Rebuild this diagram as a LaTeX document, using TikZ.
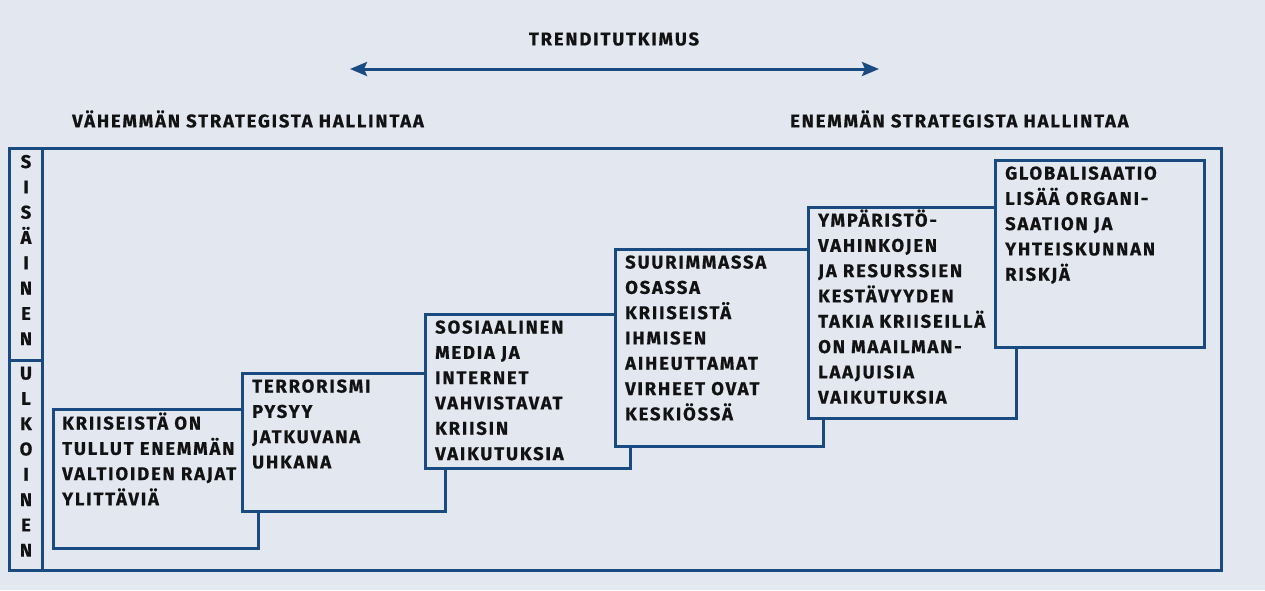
\documentclass[tikz,border=0pt]{standalone}
\usepackage{fontspec}
\setmainfont{Fira Sans}[LetterSpace=10,BoldFeatures={FakeBold=0.6}]
\usetikzlibrary{arrows.meta}
\definecolor{bgc}{HTML}{E2E7F0}
\definecolor{linec}{HTML}{1A4B80}
\definecolor{txtc}{HTML}{121212}
\newcommand{\mylines}[1]{\begin{tabular}[t]{@{}l@{}}#1\end{tabular}}
\newcommand{\mycol}[1]{\begin{tabular}[t]{@{}c@{}}#1\end{tabular}}
\begin{document}
\begin{tikzpicture}[x=1pt,y=-1pt,
  frame/.style={draw=linec,line width=3pt},
  box/.style={draw=linec,fill=bgc,line width=3pt,anchor=north west,inner sep=0pt,outer sep=0pt},
  txt/.style={anchor=base west,inner sep=0pt,text=txtc,font=\fontsize{18.4}{25.3}\selectfont\bfseries},
  head/.style={inner sep=0pt,text=txtc,font=\fontsize{18.4}{25.3}\selectfont\bfseries},
  colt/.style={anchor=base,inner sep=0pt,text=txtc,font=\fontsize{18.4}{25.3}\selectfont\bfseries}]
\useasboundingbox (0,0) rectangle (1265,590);
\fill[bgc] (0,0) rectangle (1265,590);
% headers
\node[head,anchor=center] (trend) at (614,39) {TRENDITUTKIMUS};
\coordinate (al) at (350,69);
\coordinate (ar) at (879,69);
\draw[draw=linec,line width=3pt,{Stealth[length=17pt,width=14pt,inset=3pt]}-{Stealth[length=17pt,width=14pt,inset=3pt]}] (al) -- (ar);
\node[head,anchor=west] (less) at (72,119) {VÄHEMMÄN STRATEGISTA HALLINTAA};
\node[head,anchor=west] (more) at (790,119) {ENEMMÄN STRATEGISTA HALLINTAA};
% frame
\draw[frame] (42,148) rectangle (1221,570);
\draw[frame] (9,148) rectangle (42,360);
\draw[frame] (9,360) rectangle (42,570);
\node[colt] (sis) at (26,168) {\mycol{S\\I\\S\\Ä\\I\\N\\E\\N}};
\node[colt] (ulk) at (26,379.5) {\mycol{U\\L\\K\\O\\I\\N\\E\\N}};
% boxes
\node[box,minimum width=205pt,minimum height=139pt] (b1) at (53,409) {};
\node[txt] (t1) at (62,429.5) {\mylines{KRIISEISTÄ ON\\TULLUT ENEMMÄN\\VALTIOIDEN RAJAT\\YLITTÄVIÄ}};
\node[box,minimum width=203pt,minimum height=138pt] (b2) at (242,373) {};
\node[txt] (t2) at (252,392.5) {\mylines{TERRORISMI\\PYSYY\\JATKUVANA\\UHKANA}};
\node[box,minimum width=205pt,minimum height=154pt] (b3) at (425,314) {};
\node[txt] (t3) at (435,333.5) {\mylines{SOSIAALINEN\\MEDIA JA\\INTERNET\\VAHVISTAVAT\\KRIISIN\\VAIKUTUKSIA}};
\node[box,minimum width=208pt,minimum height=197pt] (b4) at (615,249) {};
\node[txt] (t4) at (625,268.5) {\mylines{SUURIMMASSA\\OSASSA\\KRIISEISTÄ\\IHMISEN\\AIHEUTTAMAT\\VIRHEET OVAT\\KESKIÖSSÄ}};
\node[box,minimum width=208pt,minimum height=211pt] (b5) at (808,207) {};
\node[txt] (t5) at (818,226.5) {\mylines{YMPÄRISTÖ-\\VAHINKOJEN\\JA RESURSSIEN\\KESTÄVYYDEN\\TAKIA KRIISEILLÄ\\ON MAAILMAN-\\LAAJUISIA\\VAIKUTUKSIA}};
\node[box,minimum width=209pt,minimum height=187pt] (b6) at (995,160) {};
\node[txt] (t6) at (1005,179.5) {\mylines{GLOBALISAATIO\\LISÄÄ ORGANI-\\SAATION JA\\YHTEISKUNNAN\\RISKJÄ}};
\end{tikzpicture}
\end{document}
